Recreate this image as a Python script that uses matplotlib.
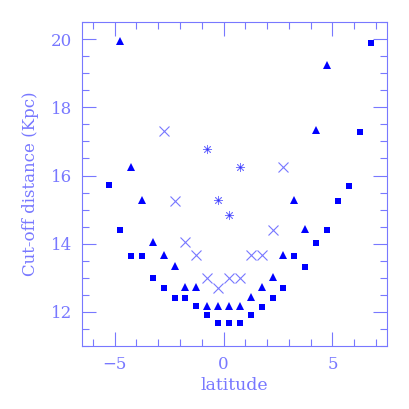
import matplotlib
matplotlib.use("Agg")
import matplotlib.pyplot as plt
from matplotlib.ticker import MultipleLocator

# filled squares
sq_x = [-5.25, -4.75, -4.25, -3.75, -3.25, -2.75, -2.25, -1.75, -1.25, -0.75,
        -0.25, 0.25, 0.75, 1.25, 1.75, 2.25, 2.75, 3.25, 3.75, 4.25,
        4.75, 5.25, 5.75, 6.25, 6.75]
sq_y = [15.72, 14.40, 13.65, 13.65, 13.00, 12.69, 12.42, 12.42, 12.16, 11.90,
        11.67, 11.67, 11.67, 11.90, 12.15, 12.42, 12.69, 13.65, 13.31, 14.02,
        14.40, 15.25, 15.70, 17.28, 19.89]

# filled triangles
tr_x = [-4.75, -4.25, -3.75, -3.25, -2.75, -2.25, -1.75, -1.25, -0.75, -0.25,
        0.25, 0.75, 1.25, 1.75, 2.25, 2.75, 3.25, 3.75, 4.25, 4.75]
tr_y = [19.95, 16.24, 15.28, 14.05, 13.68, 13.35, 12.72, 12.72, 12.18, 12.18,
        12.18, 12.17, 12.44, 12.72, 13.03, 13.68, 15.28, 14.42, 17.34, 19.23]

# crosses
cr_x = [-2.75, -2.25, -1.75, -1.25, -0.75, -0.25, 0.25, 0.75, 1.25, 1.75, 2.25, 2.75]
cr_y = [17.32, 15.26, 14.04, 13.67, 13.00, 12.70, 13.00, 13.00, 13.66, 13.66, 14.41, 16.24]

# asterisks
as_x = [-0.75, -0.25, 0.25, 0.75]
as_y = [16.77, 15.28, 14.85, 16.25]

dark = "#0000ff"
light = "#7878ff"

plt.rcParams["font.family"] = ["DejaVu Serif"]

fig = plt.figure(figsize=(4.09, 4.09), dpi=100)
ax = fig.add_axes([0.2005, 0.154, 0.7455, 0.792])

ax.plot(sq_x, sq_y, "s", color=dark, ms=4.2, mew=0)
ax.plot(tr_x, tr_y, "^", color=dark, ms=5.2, mew=0)
ax.plot(cr_x, cr_y, "x", color=light, ms=6.5, mew=0.8)
ax.plot(as_x, as_y, marker=(8, 2, 0), ls="none", color=light, ms=6.5, mew=0.6)
ax.plot(as_x, as_y, ".", color="#3030ff", ms=1.2)

ax.set_xlim(-6.5, 7.5)
ax.set_ylim(11, 20.5)
ax.xaxis.set_major_locator(MultipleLocator(5))
ax.xaxis.set_minor_locator(MultipleLocator(1))
ax.yaxis.set_major_locator(MultipleLocator(2))
ax.yaxis.set_minor_locator(MultipleLocator(0.5))

ax.tick_params(which="both", direction="in", top=True, right=True,
               color=light, labelcolor=light, labelsize=12)
ax.tick_params(which="major", length=10, width=0.8, pad=7)
ax.tick_params(which="minor", length=5, width=0.8)
for s in ax.spines.values():
    s.set_color(light)
    s.set_linewidth(0.8)

ax.set_xlabel("latitude", color=light, fontsize=12.5, labelpad=3)
ax.set_ylabel("Cut-off distance (Kpc)", color=light, fontsize=12, labelpad=9)

fig.savefig("out.png", dpi=100)
